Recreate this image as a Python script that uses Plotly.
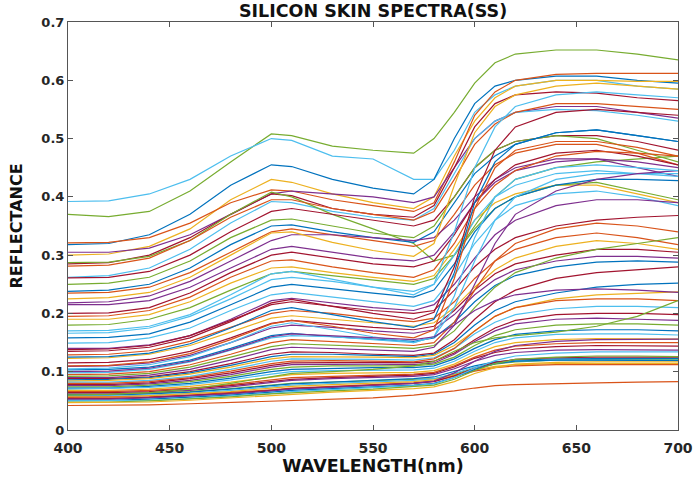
import plotly.graph_objects as go

# ---------------- data ----------------
wavelength = [400, 420, 440, 460, 480, 500, 510, 530, 550, 570, 580, 590, 600, 610, 620, 640, 660, 680, 700]

spectra = [
    [0.370, 0.366, 0.375, 0.410, 0.460, 0.508, 0.505, 0.487, 0.480, 0.475, 0.500, 0.545, 0.595, 0.630, 0.645, 0.652, 0.652, 0.645, 0.635],
    [0.392, 0.393, 0.405, 0.430, 0.470, 0.500, 0.497, 0.470, 0.465, 0.430, 0.430, 0.480, 0.545, 0.575, 0.590, 0.600, 0.600, 0.590, 0.585],
    [0.318, 0.320, 0.335, 0.370, 0.420, 0.455, 0.452, 0.430, 0.415, 0.405, 0.430, 0.500, 0.560, 0.590, 0.600, 0.607, 0.607, 0.600, 0.595],
    [0.300, 0.302, 0.315, 0.345, 0.395, 0.430, 0.425, 0.405, 0.390, 0.380, 0.400, 0.470, 0.530, 0.570, 0.590, 0.600, 0.600, 0.598, 0.598],
    [0.321, 0.322, 0.330, 0.355, 0.390, 0.412, 0.410, 0.395, 0.385, 0.375, 0.390, 0.460, 0.540, 0.580, 0.600, 0.610, 0.612, 0.612, 0.612],
    [0.305, 0.305, 0.312, 0.335, 0.370, 0.405, 0.410, 0.405, 0.400, 0.390, 0.400, 0.450, 0.500, 0.530, 0.545, 0.555, 0.555, 0.545, 0.535],
    [0.285, 0.287, 0.300, 0.330, 0.370, 0.405, 0.402, 0.380, 0.370, 0.365, 0.385, 0.450, 0.520, 0.560, 0.575, 0.580, 0.578, 0.570, 0.565],
    [0.262, 0.265, 0.278, 0.310, 0.355, 0.392, 0.390, 0.375, 0.365, 0.360, 0.380, 0.440, 0.500, 0.530, 0.545, 0.550, 0.548, 0.540, 0.530],
    [0.287, 0.288, 0.298, 0.325, 0.370, 0.408, 0.400, 0.370, 0.345, 0.320, 0.290, 0.300, 0.350, 0.400, 0.430, 0.450, 0.460, 0.465, 0.470],
    [0.281, 0.283, 0.295, 0.325, 0.365, 0.395, 0.395, 0.380, 0.370, 0.360, 0.375, 0.430, 0.490, 0.525, 0.545, 0.560, 0.560, 0.555, 0.550],
    [0.261, 0.262, 0.272, 0.300, 0.340, 0.375, 0.380, 0.370, 0.360, 0.350, 0.360, 0.400, 0.450, 0.480, 0.495, 0.505, 0.505, 0.495, 0.480],
    [0.250, 0.252, 0.262, 0.290, 0.330, 0.360, 0.362, 0.350, 0.338, 0.330, 0.350, 0.400, 0.450, 0.480, 0.495, 0.505, 0.500, 0.480, 0.460],
    [0.238, 0.240, 0.250, 0.278, 0.318, 0.350, 0.352, 0.340, 0.330, 0.322, 0.340, 0.390, 0.440, 0.470, 0.490, 0.510, 0.515, 0.505, 0.495],
    [0.235, 0.236, 0.245, 0.270, 0.305, 0.340, 0.345, 0.335, 0.325, 0.315, 0.325, 0.370, 0.420, 0.455, 0.475, 0.490, 0.490, 0.475, 0.455],
    [0.218, 0.220, 0.230, 0.255, 0.290, 0.325, 0.335, 0.335, 0.330, 0.325, 0.330, 0.360, 0.400, 0.430, 0.450, 0.465, 0.465, 0.450, 0.435],
    [0.215, 0.215, 0.222, 0.245, 0.278, 0.310, 0.315, 0.305, 0.295, 0.290, 0.300, 0.340, 0.390, 0.425, 0.445, 0.460, 0.465, 0.460, 0.450],
    [0.200, 0.201, 0.210, 0.235, 0.270, 0.300, 0.305, 0.295, 0.285, 0.280, 0.290, 0.335, 0.390, 0.430, 0.455, 0.475, 0.480, 0.470, 0.455],
    [0.195, 0.196, 0.205, 0.228, 0.262, 0.290, 0.292, 0.280, 0.270, 0.262, 0.275, 0.320, 0.380, 0.420, 0.445, 0.470, 0.478, 0.475, 0.470],
    [0.190, 0.190, 0.198, 0.220, 0.252, 0.278, 0.280, 0.270, 0.262, 0.255, 0.265, 0.310, 0.360, 0.390, 0.405, 0.420, 0.420, 0.405, 0.390],
    [0.180, 0.181, 0.190, 0.210, 0.240, 0.268, 0.272, 0.265, 0.258, 0.250, 0.260, 0.300, 0.345, 0.380, 0.400, 0.420, 0.425, 0.410, 0.395],
    [0.166, 0.167, 0.175, 0.195, 0.225, 0.258, 0.262, 0.255, 0.245, 0.238, 0.250, 0.300, 0.360, 0.400, 0.420, 0.440, 0.445, 0.440, 0.440],
    [0.158, 0.159, 0.165, 0.185, 0.215, 0.245, 0.250, 0.242, 0.235, 0.228, 0.240, 0.285, 0.340, 0.380, 0.400, 0.420, 0.430, 0.430, 0.428],
    [0.149, 0.150, 0.158, 0.175, 0.205, 0.232, 0.236, 0.228, 0.220, 0.212, 0.222, 0.265, 0.320, 0.360, 0.385, 0.405, 0.410, 0.400, 0.385],
    [0.140, 0.140, 0.146, 0.162, 0.190, 0.222, 0.226, 0.218, 0.210, 0.205, 0.215, 0.250, 0.295, 0.335, 0.360, 0.385, 0.395, 0.395, 0.390],
    [0.138, 0.139, 0.145, 0.162, 0.188, 0.215, 0.220, 0.212, 0.205, 0.200, 0.205, 0.240, 0.280, 0.310, 0.330, 0.350, 0.360, 0.365, 0.368],
    [0.129, 0.130, 0.136, 0.152, 0.176, 0.200, 0.205, 0.200, 0.192, 0.186, 0.192, 0.220, 0.260, 0.290, 0.310, 0.330, 0.338, 0.330, 0.318],
    [0.123, 0.124, 0.130, 0.145, 0.168, 0.192, 0.196, 0.190, 0.183, 0.178, 0.184, 0.210, 0.245, 0.275, 0.295, 0.315, 0.325, 0.320, 0.310],
    [0.115, 0.116, 0.121, 0.135, 0.158, 0.183, 0.188, 0.182, 0.176, 0.172, 0.178, 0.205, 0.240, 0.268, 0.285, 0.300, 0.310, 0.310, 0.305],
    [0.109, 0.110, 0.115, 0.128, 0.150, 0.175, 0.180, 0.176, 0.170, 0.166, 0.172, 0.198, 0.232, 0.258, 0.275, 0.290, 0.298, 0.298, 0.295],
    [0.103, 0.104, 0.108, 0.120, 0.140, 0.162, 0.166, 0.160, 0.156, 0.152, 0.158, 0.185, 0.220, 0.248, 0.265, 0.280, 0.288, 0.290, 0.288],
    [0.098, 0.099, 0.104, 0.117, 0.137, 0.158, 0.162, 0.160, 0.155, 0.150, 0.160, 0.210, 0.290, 0.360, 0.400, 0.430, 0.440, 0.440, 0.435],
    [0.095, 0.096, 0.100, 0.112, 0.130, 0.150, 0.155, 0.152, 0.148, 0.145, 0.150, 0.185, 0.240, 0.290, 0.320, 0.345, 0.355, 0.350, 0.340],
    [0.092, 0.093, 0.097, 0.108, 0.125, 0.143, 0.148, 0.146, 0.143, 0.140, 0.145, 0.170, 0.210, 0.245, 0.270, 0.295, 0.310, 0.320, 0.330],
    [0.090, 0.090, 0.094, 0.104, 0.120, 0.138, 0.142, 0.140, 0.137, 0.135, 0.142, 0.180, 0.250, 0.320, 0.370, 0.410, 0.430, 0.440, 0.445],
    [0.088, 0.088, 0.091, 0.100, 0.114, 0.130, 0.134, 0.133, 0.130, 0.128, 0.132, 0.155, 0.190, 0.220, 0.240, 0.260, 0.270, 0.275, 0.280],
    [0.086, 0.087, 0.090, 0.098, 0.111, 0.126, 0.130, 0.130, 0.128, 0.126, 0.130, 0.150, 0.180, 0.205, 0.220, 0.235, 0.245, 0.250, 0.252],
    [0.084, 0.085, 0.088, 0.096, 0.108, 0.122, 0.126, 0.126, 0.125, 0.124, 0.128, 0.145, 0.170, 0.195, 0.210, 0.225, 0.232, 0.235, 0.237],
    [0.082, 0.082, 0.085, 0.092, 0.104, 0.118, 0.122, 0.122, 0.121, 0.120, 0.124, 0.140, 0.165, 0.185, 0.198, 0.208, 0.212, 0.212, 0.210],
    [0.080, 0.080, 0.083, 0.090, 0.101, 0.114, 0.118, 0.119, 0.118, 0.117, 0.122, 0.140, 0.170, 0.195, 0.210, 0.222, 0.225, 0.225, 0.222],
    [0.078, 0.078, 0.081, 0.088, 0.098, 0.111, 0.115, 0.116, 0.116, 0.115, 0.118, 0.132, 0.155, 0.175, 0.188, 0.198, 0.200, 0.200, 0.198],
    [0.076, 0.076, 0.079, 0.085, 0.095, 0.108, 0.112, 0.113, 0.113, 0.112, 0.115, 0.130, 0.152, 0.170, 0.182, 0.190, 0.192, 0.190, 0.188],
    [0.074, 0.074, 0.077, 0.083, 0.092, 0.104, 0.108, 0.110, 0.110, 0.110, 0.113, 0.125, 0.145, 0.162, 0.172, 0.180, 0.182, 0.182, 0.180],
    [0.072, 0.072, 0.075, 0.080, 0.089, 0.100, 0.104, 0.106, 0.107, 0.107, 0.110, 0.122, 0.140, 0.155, 0.164, 0.170, 0.172, 0.172, 0.170],
    [0.070, 0.071, 0.073, 0.078, 0.086, 0.096, 0.100, 0.102, 0.103, 0.103, 0.106, 0.118, 0.135, 0.150, 0.158, 0.164, 0.165, 0.165, 0.163],
    [0.068, 0.068, 0.070, 0.075, 0.082, 0.091, 0.095, 0.097, 0.098, 0.099, 0.102, 0.113, 0.130, 0.143, 0.150, 0.155, 0.157, 0.157, 0.156],
    [0.066, 0.066, 0.068, 0.072, 0.078, 0.086, 0.090, 0.092, 0.094, 0.096, 0.099, 0.110, 0.125, 0.137, 0.144, 0.148, 0.150, 0.150, 0.150],
    [0.064, 0.064, 0.066, 0.070, 0.076, 0.083, 0.087, 0.090, 0.092, 0.094, 0.097, 0.108, 0.123, 0.133, 0.139, 0.143, 0.145, 0.145, 0.144],
    [0.062, 0.062, 0.064, 0.068, 0.074, 0.081, 0.085, 0.088, 0.090, 0.092, 0.095, 0.105, 0.118, 0.128, 0.133, 0.137, 0.138, 0.138, 0.137],
    [0.061, 0.061, 0.063, 0.066, 0.071, 0.077, 0.080, 0.082, 0.084, 0.086, 0.088, 0.096, 0.106, 0.113, 0.117, 0.120, 0.121, 0.121, 0.121],
    [0.060, 0.060, 0.062, 0.065, 0.070, 0.076, 0.079, 0.082, 0.085, 0.088, 0.091, 0.100, 0.110, 0.117, 0.120, 0.122, 0.123, 0.123, 0.123],
    [0.058, 0.058, 0.060, 0.063, 0.068, 0.074, 0.077, 0.080, 0.082, 0.085, 0.088, 0.097, 0.108, 0.115, 0.118, 0.120, 0.120, 0.120, 0.120],
    [0.057, 0.057, 0.059, 0.062, 0.066, 0.072, 0.075, 0.078, 0.080, 0.083, 0.086, 0.094, 0.103, 0.109, 0.112, 0.114, 0.114, 0.114, 0.114],
    [0.056, 0.056, 0.057, 0.060, 0.064, 0.069, 0.072, 0.075, 0.078, 0.081, 0.084, 0.092, 0.101, 0.107, 0.110, 0.112, 0.112, 0.112, 0.112],
    [0.054, 0.054, 0.056, 0.059, 0.063, 0.068, 0.071, 0.074, 0.077, 0.080, 0.083, 0.093, 0.106, 0.116, 0.121, 0.124, 0.125, 0.125, 0.125],
    [0.053, 0.053, 0.055, 0.058, 0.062, 0.067, 0.070, 0.073, 0.076, 0.080, 0.084, 0.098, 0.118, 0.135, 0.145, 0.152, 0.155, 0.156, 0.156],
    [0.051, 0.051, 0.053, 0.056, 0.060, 0.065, 0.068, 0.071, 0.074, 0.077, 0.080, 0.090, 0.104, 0.114, 0.118, 0.120, 0.120, 0.120, 0.119],
    [0.050, 0.050, 0.051, 0.054, 0.058, 0.063, 0.066, 0.069, 0.072, 0.076, 0.079, 0.090, 0.106, 0.119, 0.127, 0.132, 0.134, 0.134, 0.134],
    [0.048, 0.048, 0.050, 0.053, 0.057, 0.062, 0.064, 0.067, 0.070, 0.074, 0.077, 0.087, 0.102, 0.114, 0.121, 0.125, 0.127, 0.127, 0.126],
    [0.047, 0.047, 0.048, 0.051, 0.055, 0.060, 0.062, 0.065, 0.068, 0.071, 0.074, 0.083, 0.097, 0.107, 0.113, 0.116, 0.117, 0.117, 0.117],
    [0.042, 0.042, 0.043, 0.045, 0.047, 0.050, 0.051, 0.053, 0.055, 0.060, 0.063, 0.067, 0.072, 0.076, 0.078, 0.080, 0.081, 0.082, 0.083],
    [0.060, 0.061, 0.064, 0.070, 0.080, 0.092, 0.097, 0.100, 0.104, 0.110, 0.118, 0.135, 0.150, 0.158, 0.162, 0.168, 0.178, 0.195, 0.222],
    [0.105, 0.106, 0.112, 0.126, 0.150, 0.178, 0.184, 0.172, 0.160, 0.150, 0.160, 0.230, 0.330, 0.400, 0.430, 0.450, 0.455, 0.450, 0.445],
    [0.110, 0.111, 0.117, 0.131, 0.155, 0.182, 0.188, 0.178, 0.166, 0.158, 0.172, 0.260, 0.380, 0.450, 0.480, 0.495, 0.495, 0.485, 0.470],
    [0.125, 0.126, 0.132, 0.148, 0.175, 0.205, 0.210, 0.198, 0.186, 0.176, 0.190, 0.270, 0.390, 0.460, 0.490, 0.510, 0.515, 0.505, 0.495],
    [0.135, 0.136, 0.142, 0.158, 0.186, 0.218, 0.224, 0.212, 0.200, 0.190, 0.202, 0.280, 0.400, 0.480, 0.520, 0.545, 0.550, 0.545, 0.540],
    [0.170, 0.171, 0.178, 0.198, 0.232, 0.268, 0.272, 0.258, 0.245, 0.232, 0.250, 0.340, 0.450, 0.520, 0.555, 0.575, 0.580, 0.575, 0.570],
    [0.225, 0.227, 0.236, 0.262, 0.300, 0.338, 0.340, 0.322, 0.308, 0.298, 0.320, 0.420, 0.510, 0.555, 0.575, 0.590, 0.595, 0.590, 0.585],
    [0.100, 0.101, 0.106, 0.118, 0.138, 0.160, 0.165, 0.162, 0.158, 0.155, 0.160, 0.180, 0.205, 0.222, 0.232, 0.240, 0.242, 0.240, 0.236],
]

x_ticks = [400, 450, 500, 550, 600, 650, 700]
y_ticks = [0, 0.1, 0.2, 0.3, 0.4, 0.5, 0.6, 0.7]

# ---------------- style ----------------
PALETTE = {
    "b": "#0072BD", "o": "#D95319", "y": "#EDB120", "p": "#7E2F8E",
    "g": "#77AC30", "c": "#4DBEEE", "r": "#A2142F",
}
line_color_keys = [
    "g", "c", "b", "y", "o", "p", "r", "c", "g", "o",
    "r", "g", "b", "o", "p", "p", "r", "o", "y", "g",
    "c", "b", "c", "p", "r", "o", "y", "r", "p", "b",
    "c", "o", "g", "p", "r", "b", "y", "c", "o", "r",
    "p", "g", "b", "c", "y", "o", "r", "p", "g", "b",
    "c", "y", "o", "r", "p", "b", "c", "g", "y", "o",
    "g", "c", "o", "b", "r", "c", "y", "p",
]

fig = go.Figure()
for i, vals in enumerate(spectra):
    fig.add_trace(go.Scatter(
        x=wavelength, y=vals, mode="lines",
        line=dict(color=PALETTE[line_color_keys[i % len(line_color_keys)]], width=1.2),
        showlegend=False, hoverinfo="skip",
    ))

font_fam = "DejaVu Sans, Verdana, sans-serif"
axis_common = dict(
    showgrid=False, zeroline=False, showline=True, linecolor="#555555", linewidth=1,
    mirror="ticks", ticks="inside", ticklen=5, tickcolor="#555555",
    automargin=False, ticklabeloverflow="allow",
)

fig.update_layout(
    width=694, height=485,
    margin=dict(l=68, r=16, t=22, b=55),
    paper_bgcolor="white", plot_bgcolor="white",
    title=dict(text="SILICON SKIN SPECTRA(SS)", x=0.5375, xanchor="center",
               y=0.978, yanchor="middle",
               font=dict(family=font_fam, size=17.5, color="#111111", weight="bold")),
    xaxis=dict(range=[400, 700], tickvals=x_ticks, ticklabelstandoff=5,
               tickfont=dict(family=font_fam, size=14, color="#262626", weight="bold"),
               title=dict(text="WAVELENGTH(nm)", standoff=4,
                          font=dict(family=font_fam, size=17.5, color="#111111", weight="bold")),
               **axis_common),
    yaxis=dict(range=[0, 0.7], tickvals=y_ticks,
               tickfont=dict(family=font_fam, size=13, color="#262626", weight="bold"),
               title=dict(text="REFLECTANCE", standoff=14,
                          font=dict(family=font_fam, size=16, color="#111111", weight="bold")),
               **axis_common),
)

fig.write_html("out.html")
